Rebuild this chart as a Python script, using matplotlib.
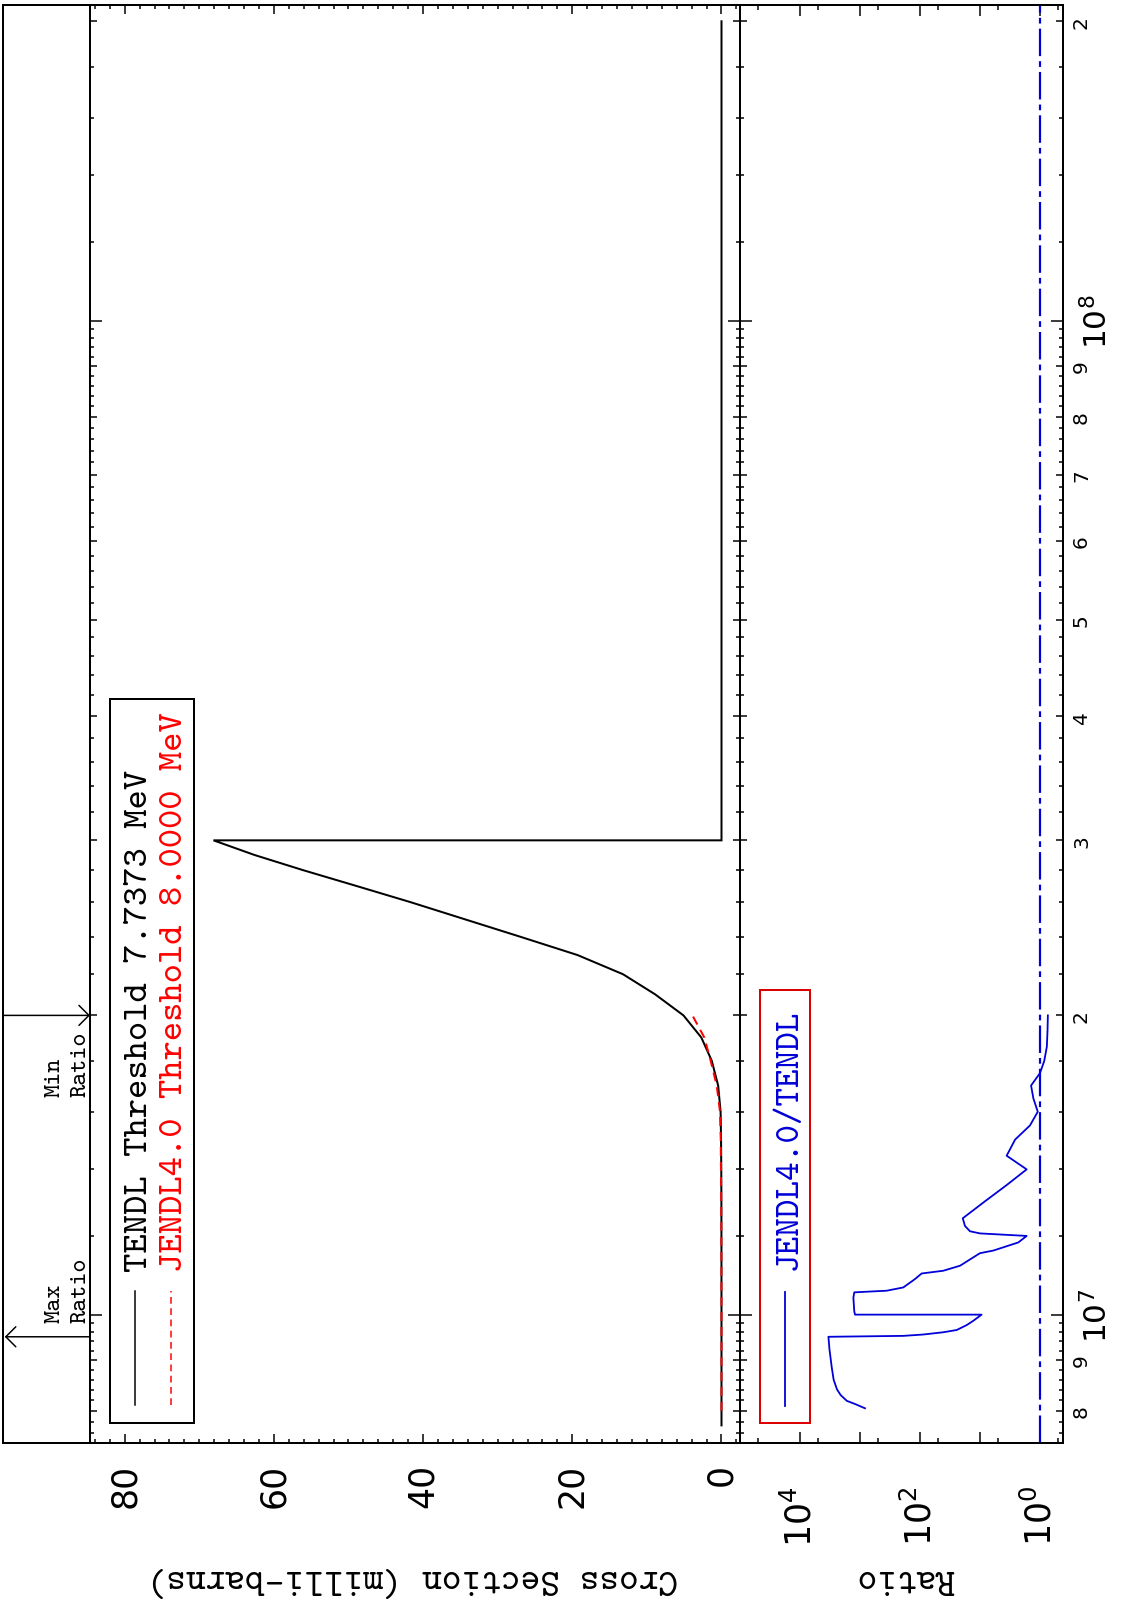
import numpy as np
import matplotlib
matplotlib.use("Agg")
import matplotlib.pyplot as plt
from matplotlib.ticker import FixedLocator, FuncFormatter, NullFormatter
from matplotlib.patches import Rectangle
from matplotlib.lines import Line2D

# ---------------------------------------------------------------- data
# TENDL cross section (incident energy in MeV, cross section in mb)
tendl_energy_mev = [7.7373, 8, 9, 10, 11, 12, 13, 14, 15, 16, 17, 18, 19, 20,
                    21, 22, 23, 24, 25, 26, 27, 28, 29, 30, 30, 200]
tendl_xs_mb = [0.0, 0.0003, 0.001, 0.002, 0.004, 0.008, 0.015, 0.03, 0.06,
               0.12, 0.45, 1.3, 2.7, 5.1, 8.9, 13.2, 19.3, 27.0, 34.5, 41.7,
               49.0, 56.1, 62.6, 68.1, 0.0, 0.0]

# JENDL-4.0 cross section
jendl_energy_mev = [8, 9, 10, 11, 12, 13, 14, 15, 16, 17, 18, 19, 20]
jendl_xs_mb = [0.0, 0.002, 0.005, 0.01, 0.02, 0.04, 0.07, 0.1, 0.2, 0.64,
               1.45, 2.3, 3.9]

# JENDL-4.0 / TENDL ratio
ratio_energy_mev = [8.05, 8.13, 8.19, 8.3, 8.41, 8.6, 8.84, 9.23, 9.5,
                    9.52, 9.55, 9.6, 9.65, 9.76, 9.86, 10.0,
                    10.0, 10.07, 10.4, 10.53, 10.57, 10.65, 10.86, 11.0,
                    11.07, 11.2, 11.42, 11.53, 11.6, 11.82, 12.0,
                    12.07, 12.13, 12.28, 12.5, 13.0, 13.5, 14.0,
                    14.45, 15.0, 15.5, 16.0, 16.5, 17.0, 17.5, 18.0, 18.6,
                    19.3, 20.0]
ratio_values = [826, 1210, 1660, 2100, 2420, 2750, 2950, 3230, 3360,
                190, 88, 41, 24.5, 16.7, 12.9, 9.4,
                1210, 1245, 1290, 1245, 359, 190, 121, 94,
                41, 21.5, 12.9, 10, 6, 2.3, 1.67,
                10, 14.7, 17.8, 19.4, 8.3, 3.6, 1.67,
                3.6, 2.6, 1.47, 1.09, 1.29, 1.41, 1.0, 0.85, 0.77,
                0.75, 0.74]

max_ratio_energy_mev = 9.5
min_ratio_energy_mev = 20.0

xs_ticks = [0, 20, 40, 60, 80]
ratio_major = [1, 10, 100, 1000, 10000]
ratio_labelled = [1, 100, 10000]

tendl_label = "TENDL Threshold 7.7373 MeV"
jendl_label = "JENDL4.0 Threshold 8.0000 MeV"
ratio_label = "JENDL4.0/TENDL"

# ---------------------------------------------------------------- layout
W, H, DPI = 1126, 1606, 100
TT = "cmtt10"
BLUE = "#0000d8"
RED = "#ff0000"
PX = 72.0 / DPI  # points per pixel

plt.rcParams["font.family"] = ["DejaVu Sans"]
plt.rcParams["mathtext.fontset"] = "dejavusans"


def fx(x):
    return x / W


def fy(y):
    return 1.0 - y / H


X0, X1, X2, X3 = 3, 90, 740, 1063
YT, YB = 6, 1444
E_LO, E_HI = 7.428e6, 2.077e8

fig = plt.figure(figsize=(W / DPI, H / DPI), dpi=DPI)
ax0 = fig.add_axes([fx(X0), fy(YB), (X1 - X0) / W, (YB - YT) / H])
ax1 = fig.add_axes([fx(X1), fy(YB), (X2 - X1) / W, (YB - YT) / H])
ax2 = fig.add_axes([fx(X2), fy(YB), (X3 - X2) / W, (YB - YT) / H])

for a in (ax0, ax1, ax2):
    a.set_yscale("log")
    a.set_ylim(E_LO, E_HI)
    for s in a.spines.values():
        s.set_linewidth(2 * PX)
ax0.spines["right"].set_visible(False)

# ---------------------------------------------------------------- curves
e_t = np.array(tendl_energy_mev) * 1e6
e_j = np.array(jendl_energy_mev) * 1e6
e_r = np.array(ratio_energy_mev) * 1e6

ax1.plot(tendl_xs_mb, e_t, color="black", lw=2 * PX, solid_joinstyle="miter")
ax1.plot(jendl_xs_mb, e_j, color=RED, lw=2 * PX, ls=(0, (4.5, 3.0)))
ax1.set_xlim(84.65, -2.48)

ax2.set_xscale("log")
ax2.plot(ratio_values, e_r, color=BLUE, lw=1.8 * PX)
ax2.axvline(1.0, color=BLUE, lw=2.2 * PX, ls=(0, (12.5, 2.3, 2.6, 2.3)))
ax2.set_xlim(1e5, 10 ** -0.383)

# ---------------------------------------------------------------- energy ticks
decades = [1e7, 1e8]
integers = [k * 10.0 ** n for n in (6, 7, 8) for k in range(2, 10)]
integers = [v for v in integers if E_LO <= v <= E_HI]
fine = []
for n in (6, 7, 8):
    for m in range(5, 50):
        if m % 5:
            v = m * 0.2 * 10.0 ** n
            if E_LO <= v <= E_HI:
                fine.append(v)
e_major = sorted(decades + integers)


def energy_fmt(v, pos):
    exp = int(round(np.log10(v)))
    if abs(v - 10.0 ** exp) < 1e-3 * v:
        return r"$10^{%d}$" % exp
    return "%d" % int(round(v / 10.0 ** np.floor(np.log10(v))))


for a in (ax0, ax1, ax2):
    a.yaxis.set_major_locator(FixedLocator(e_major))
    a.yaxis.set_minor_locator(FixedLocator(fine))

ax0.tick_params(axis="both", which="both", left=False, right=False,
                top=False, bottom=False, labelleft=False, labelbottom=False)
ax0.set_xlim(0, 1)

ax1.yaxis.set_major_formatter(NullFormatter())
ax1.yaxis.set_minor_formatter(NullFormatter())
ax1.tick_params(axis="y", which="both", direction="in", left=True, right=True,
                labelleft=False, labelright=False, width=1.5 * PX)
ax1.tick_params(axis="y", which="minor", length=4 * PX)

ax2.yaxis.set_major_formatter(FuncFormatter(energy_fmt))
ax2.yaxis.set_minor_formatter(NullFormatter())
ax2.tick_params(axis="y", which="both", direction="in", left=True, right=True,
                labelleft=False, labelright=True, width=1.5 * PX)
ax2.tick_params(axis="y", which="minor", length=4 * PX)

# ---------------------------------------------------------------- cross-section ticks
ax1.xaxis.set_major_locator(FixedLocator(xs_ticks))
ax1.xaxis.set_minor_locator(FixedLocator(np.arange(-2, 86, 2)))
ax1.tick_params(axis="x", which="both", direction="in", top=True, bottom=True,
                width=1.5 * PX, labelrotation=90, labelsize=25, pad=20 * PX)
ax1.tick_params(axis="x", which="major", length=9 * PX)
ax1.tick_params(axis="x", which="minor", length=4 * PX)

# ---------------------------------------------------------------- ratio ticks
ax2.xaxis.set_major_locator(FixedLocator(ratio_major))
ax2.xaxis.set_minor_locator(FixedLocator([5 * v for v in [0.1] + ratio_major]))
ax2.xaxis.set_minor_formatter(NullFormatter())
ax2.xaxis.set_major_formatter(FuncFormatter(
    lambda v, p: (r"$10^{%d}$" % int(round(np.log10(v))))
    if any(abs(v - r) < 1e-6 * r for r in ratio_labelled) else ""))
ax2.tick_params(axis="x", which="both", direction="in", top=True, bottom=True,
                width=1.5 * PX, labelrotation=90, labelsize=25, pad=42 * PX)
ax2.tick_params(axis="x", which="major", length=11 * PX)
ax2.tick_params(axis="x", which="minor", length=5 * PX)

# per-tick lengths, pads and label styles on the energy axis
for a in (ax1, ax2):
    ticks = a.yaxis.get_major_ticks(len(e_major))
    for t, v in zip(ticks, e_major):
        is_dec = v in decades
        t.set_pad((18 if is_dec else 9) * PX)
        ln = 12 * PX if is_dec else 7 * PX
        t.tick1line.set_markersize(ln)
        t.tick2line.set_markersize(ln)
        t.tick1line.set_markeredgewidth(1.5 * PX)
        t.tick2line.set_markeredgewidth(1.5 * PX)
        lab = t.label2
        lab.set_fontsize(22.5 if is_dec else 14.5)
        lab.set_rotation(90)
        lab.set_rotation_mode("anchor")
        lab.set_horizontalalignment("center")
        lab.set_verticalalignment("top")

# ---------------------------------------------------------------- legends
lw_box = 2 * PX
fig.add_artist(Rectangle((fx(110), fy(1424)), (194 - 110) / W, (1424 - 700) / H,
                         transform=fig.transFigure, fill=False,
                         edgecolor="black", lw=lw_box))
fig.add_artist(Line2D([fx(135), fx(135)], [fy(1406), fy(1292)],
                      transform=fig.transFigure, color="black", lw=1.5 * PX))
fig.add_artist(Line2D([fx(171), fx(171)], [fy(1406), fy(1292)],
                      transform=fig.transFigure, color=RED, lw=1.5 * PX,
                      ls=(0, (4.5, 3.0))))
fig.text(fx(147), fy(1272), tendl_label, family=TT, fontsize=26.5,
         rotation=90, rotation_mode="anchor", ha="left", va="baseline",
         color="black")
fig.text(fx(182), fy(1272), jendl_label, family=TT, fontsize=26.5,
         rotation=90, rotation_mode="anchor", ha="left", va="baseline",
         color=RED)

fig.add_artist(Rectangle((fx(760), fy(1424)), (810 - 760) / W, (1424 - 991) / H,
                         transform=fig.transFigure, fill=False,
                         edgecolor="#dd0000", lw=lw_box))
fig.add_artist(Line2D([fx(785), fx(785)], [fy(1407), fy(1293)],
                      transform=fig.transFigure, color=BLUE, lw=1.8 * PX))
fig.text(fx(797), fy(1270), ratio_label, family=TT, fontsize=25.5,
         rotation=90, rotation_mode="anchor", ha="left", va="baseline",
         color=BLUE)

# ---------------------------------------------------------------- max / min ratio markers
arrow = dict(arrowstyle="->,head_length=0.4,head_width=0.4", lw=1.5 * PX,
             color="black", mutation_scale=18, shrinkA=0, shrinkB=0)
ax0.annotate("", xy=(0.02, max_ratio_energy_mev * 1e6),
             xytext=(1.0, max_ratio_energy_mev * 1e6), arrowprops=arrow)
ax0.annotate("", xy=(1.0, min_ratio_energy_mev * 1e6),
             xytext=(0.0, min_ratio_energy_mev * 1e6), arrowprops=arrow)

for (xb, ystart, word) in [(60, 1323, "Max"), (85, 1323, "Ratio"),
                           (60, 1097, "Min"), (85, 1097, "Ratio")]:
    fig.text(fx(xb), fy(ystart), word, family=TT, fontsize=18, rotation=90,
             rotation_mode="anchor", ha="left", va="baseline")

# ---------------------------------------------------------------- axis titles
fig.text(fx(412), fy(1570), "Cross Section (milli-barns)", family=TT,
         fontsize=27, rotation=180, rotation_mode="anchor", ha="center",
         va="baseline")
fig.text(fx(905), fy(1570), "Ratio", family=TT, fontsize=27, rotation=180,
         rotation_mode="anchor", ha="center", va="baseline")

fig.savefig("out.png", dpi=DPI)
